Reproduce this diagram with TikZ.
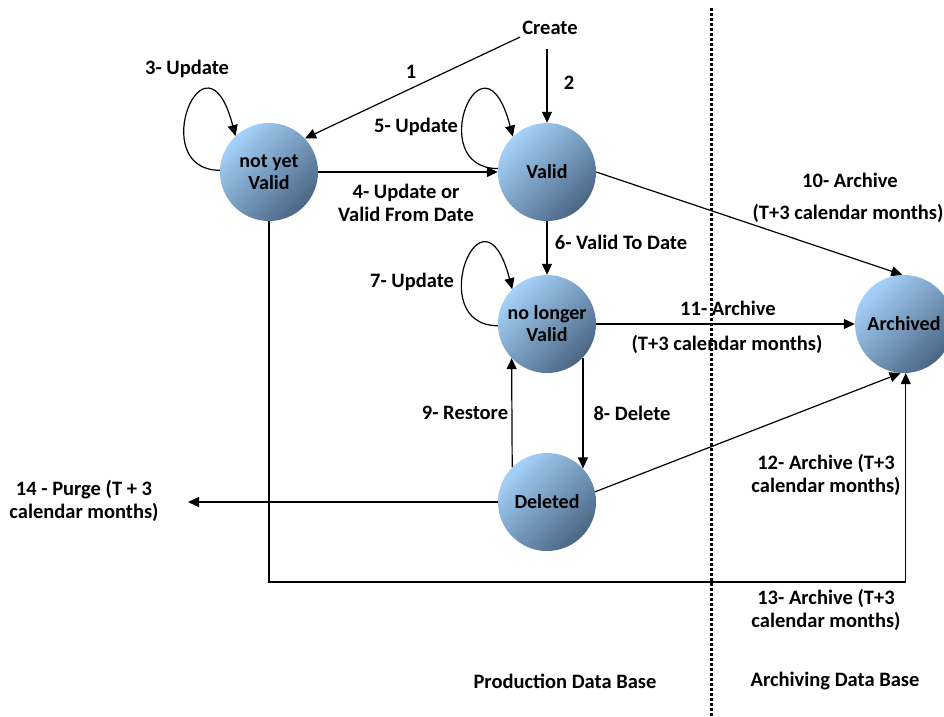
\documentclass[tikz,border=0pt]{standalone}
\usepackage{fontspec}
\setmainfont{Carlito}
\usetikzlibrary{arrows.meta}
\definecolor{ballhi}{HTML}{A6D2FA}
\definecolor{balllo}{HTML}{4A6684}
\tikzset{
  state/.style={circle, minimum size=98pt, inner sep=0pt, align=center,
    shading=axis, top color=ballhi, bottom color=balllo, shading angle=45,
    font=\bfseries\fontsize{20}{22}\selectfont},
  lbl/.style={font=\bfseries\fontsize{20.5}{23}\selectfont, align=center, inner sep=1pt},
  conn/.style={draw=black, line width=1.2pt, -{Triangle[length=11pt,width=10pt]}},
}
\begin{document}
\begin{tikzpicture}[x=1pt,y=-1pt]
\useasboundingbox (0,0) rectangle (944,716);
% states
\node[state] (nyv) at (269,172) {not yet\\Valid};
\node[state] (valid) at (547,172) {Valid};
\node[state] (nlv) at (547,324) {no longer\\Valid};
\node[state] (deleted) at (547,502) {Deleted};
\node[state] (archived) at (904,324) {Archived};
\node[lbl, inner sep=2pt] (create) at (550,28) {Create};
% dotted separator
\coordinate (septop) at (711,8);
\coordinate (sepbot) at (711,716);
\draw[line width=3pt, dash pattern=on 2.6pt off 2.4pt] (septop) -- (sepbot);
% connectors
\draw[conn] (create.south west) -- (nyv.43);
\draw[conn, shorten <=12pt] (create.south -| valid) -- (valid.north);
\draw[conn] (nyv.east) -- (valid.west);
\draw[conn] (valid.south) -- (nlv.north);
\draw[conn] (nlv.-43) -- (deleted.43);
\draw[conn] (deleted.135) -- (nlv.-136);
\draw[conn] (valid.east) -- (archived.92);
\draw[conn] (nlv.east) -- (archived.west);
\draw[conn] (deleted.12) -- (archived.266);
\coordinate (bot) at (0,582);
\draw[conn] (nyv.south) |- (archived.272 |- bot) -- (archived.272);
\coordinate (purgeend) at (188,502);
\draw[conn] (deleted.west) -- (purgeend);
% self loops
\draw[conn] (nyv.178) .. controls +(-75,0) and +(-30,-116) .. (nyv.133);
\draw[conn] (valid.176) .. controls +(-75,0) and +(-30,-116) .. (valid.134);
\draw[conn] (nlv.182) .. controls +(-75,0) and +(-30,-116) .. (nlv.135);
% labels
\node[lbl] (l1) at (411,72) {1};
\node[lbl] (l2) at (569,83) {2};
\node[lbl] (l3) at (187,69) {3- Update};
\node[lbl] (l4) at (406,203) {4- Update or\\Valid From Date};
\node[lbl] (l5) at (416,127) {5- Update};
\node[lbl] (l6) at (621,242) {6- Valid To Date};
\node[lbl] (l7) at (412,282) {7- Update};
\node[lbl] (l8) at (632,413) {8- Delete};
\node[lbl] (l9) at (465,413) {9- Restore};
\node[lbl] (l10) at (850,180) {10- Archive};
\node[lbl] (l10b) at (848,213) {(T+3 calendar months)};
\node[lbl] (l11) at (728,308) {11- Archive};
\node[lbl] (l11b) at (727,344) {(T+3 calendar months)};
\node[lbl] (l12) at (826,475) {12- Archive (T+3\\calendar months)};
\node[lbl] (l13) at (826,610) {13- Archive (T+3\\calendar months)};
\node[lbl] (l14) at (84,501) {14 - Purge (T + 3\\calendar months)};
\node[lbl] (prod) at (565,681) {Production Data Base};
\node[lbl] (arch) at (835,681) {Archiving Data Base};
\end{tikzpicture}
\end{document}
